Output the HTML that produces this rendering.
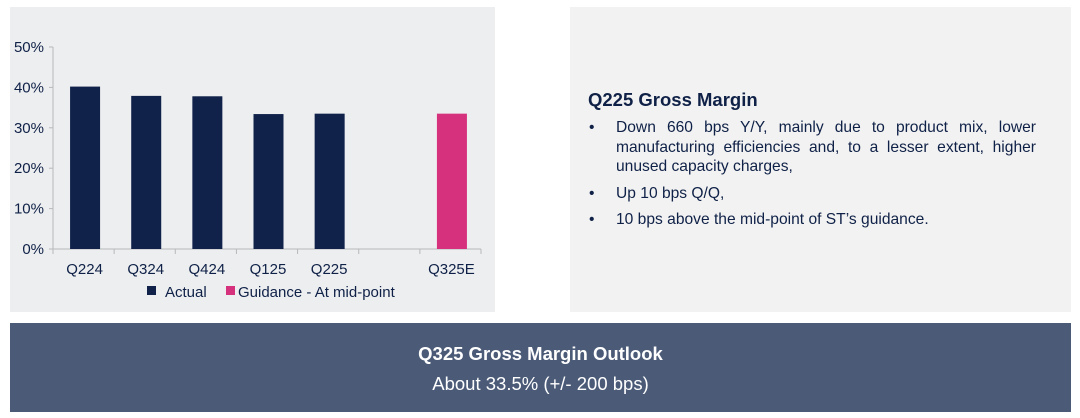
<!DOCTYPE html>
<html><head><meta charset="utf-8"><style>
body{margin:0;width:1080px;height:418px;background:#fff;position:relative;font-family:"Liberation Sans",Arial,sans-serif;overflow:hidden}
#left{position:absolute;left:10px;top:7px;width:485px;height:305px;background:#edeef0}
#right{position:absolute;left:570px;top:7px;width:501px;height:305px;background:#f2f2f2;color:#0f2147}
#right h2{position:absolute;left:18px;top:82px;margin:0;font-size:18.5px;font-weight:bold}
#right ul{position:absolute;left:18px;top:111px;width:448px;margin:0;padding:0;list-style:none;font-size:15.6px;line-height:19.5px}
#right li{position:relative;padding-left:28px;text-align:justify;margin-bottom:7px}
#right li::before{content:"•";position:absolute;left:1px;top:0}
#band{position:absolute;left:10px;top:323px;width:1061px;height:89px;background:#4a5a77;color:#fff;text-align:center}
#band .t{position:absolute;left:0;right:0;top:20px;font-size:18.5px;font-weight:bold}
#band .s{position:absolute;left:0;right:0;top:50px;font-size:18.5px}
</style></head><body>
<div id="left">
<svg id="chart" width="485" height="305"></svg>
</div>
<div id="right">
<h2>Q225 Gross Margin</h2>
<ul>
<li>Down 660 bps Y/Y, mainly due to product mix, lower manufacturing efficiencies and, to a lesser extent, higher unused capacity charges,</li>
<li>Up 10 bps Q/Q,</li>
<li>10 bps above the mid-point of ST’s guidance.</li>
</ul>
</div>
<div id="band">
<div class="t">Q325 Gross Margin Outlook</div>
<div class="s">About 33.5% (+/- 200 bps)</div>
</div>
<script>
const categories=["Q224","Q324","Q424","Q125","Q225","","Q325E"];
const actual=[40.2,37.9,37.8,33.4,33.5,null,null];
const guidance=[null,null,null,null,null,null,33.5];
const yTicks=[0,10,20,30,40,50];
const NS="http://www.w3.org/2000/svg";
const svg=document.getElementById('chart');
const x0=43,x1=471,yb=242,yt=40,ymax=50;
const slot=(x1-x0)/categories.length;
const y=v=>yb-(v/ymax)*(yb-yt);
const xc=i=>x0+slot*(i+0.5);
function mk(tag,attrs){const e=document.createElementNS(NS,tag);for(const k in attrs)e.setAttribute(k,attrs[k]);svg.appendChild(e);return e;}
let e=mk('line',{x1:x0,x2:x0,y1:yt,y2:yb,stroke:'#b8b8b8'});

e=mk('line',{x1:x0,x2:x1,y1:yb,y2:yb,stroke:'#b8b8b8'});

yTicks.forEach(t=>{
 let l=mk('line',{x1:x0-4,x2:x0,y1:y(t),y2:y(t),stroke:'#b8b8b8'});
 
 let tx=mk('text',{x:x0-9,y:y(t)+5,'text-anchor':'end','font-size':'15','fill':'#0f2147'});
 tx.textContent=t+'%';
 
});
for(let i=0;i<=categories.length;i++){
 let l=mk('line',{x1:x0+slot*i,x2:x0+slot*i,y1:yb,y2:yb+5,stroke:'#b8b8b8'});
 
}
categories.forEach((c,i)=>{
 if(!c)return;
 let tx=mk('text',{x:xc(i)+1,y:yb+25,'text-anchor':'middle','font-size':'15','fill':'#0f2147'});
 tx.textContent=c;
 
});
const bw=30;
actual.forEach((v,i)=>{if(v==null)return;
 let r=mk('rect',{x:xc(i)-bw/2+1.5,y:y(v),width:bw,height:yb-y(v),fill:'#10214a'});
 });
guidance.forEach((v,i)=>{if(v==null)return;
 let r=mk('rect',{x:xc(i)-bw/2+1.5,y:y(v),width:bw,height:yb-y(v),fill:'#d6317c'});
 });
let s=mk('rect',{x:137,y:279,width:9,height:9,fill:'#10214a'});

let t=mk('text',{x:155,y:290,'font-size':'15','fill':'#0f2147'});t.textContent='Actual';

s=mk('rect',{x:216,y:279,width:9,height:9,fill:'#d6317c'});

t=mk('text',{x:228,y:290,'font-size':'15','fill':'#0f2147'});t.textContent='Guidance - At mid-point';

</script>
</body></html>
